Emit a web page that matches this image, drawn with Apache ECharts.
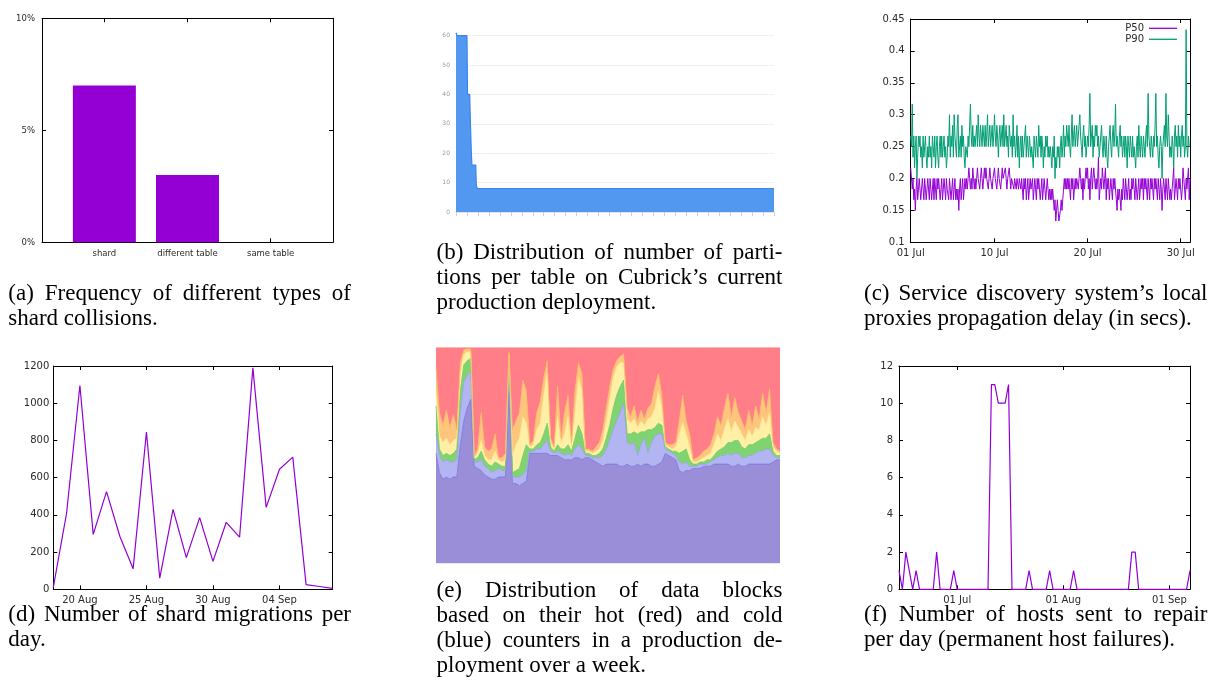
<!DOCTYPE html>
<html lang="en">
<head>
<meta charset="UTF-8">
<title>Cubrick figures</title>
<script src="https://cdn.jsdelivr.net/npm/echarts@6.0.0/dist/echarts.min.js"></script>
<style>
  body { margin: 0; background: #fff; }
  #main { width: 1208px; height: 681px; }
</style>
</head>
<body>
<div id="main"></div>
<script>
// (a) frequency of shard collision types, in percent
const collisionTypes = ['shard', 'different table', 'same table'];
const collisionPct = [7, 3, 0];

// (b) partitions per table, tables sorted by partition count
const partRank  = [0, 1, 10, 10.5, 12.5, 13, 14, 14.5, 18, 18.5, 19.5, 290];
const partCount = [61, 60, 60, 40, 40, 32, 20, 16, 16, 9, 8, 8];

// (c) propagation delay, sampled every 2h from 01 Jul, in 1/60 s
const p50Ticks = [
  13,12,11,12,10,11,9,11,12,10,11,12, 12,10,11,12,11,10,12,11,10,11,12,11,
  10,12,11,10,11,12,10,12,11,10,12,11, 12,11,10,11,12,10,11,12,11,10,12,11,
  11,10,12,11,10,11,12,10,11,12,10,11, 10,11,9,11,12,10,11,12,10,11,12,11,
  12,11,12,13,12,11,12,11,13,12,11,12, 11,12,13,12,12,11,12,13,12,11,12,13,
  12,13,12,12,11,12,13,12,12,11,12,12, 13,12,12,11,12,13,12,12,11,12,13,12,
  12,12,13,12,11,12,12,13,12,11,12,12, 12,11,12,12,11,12,12,11,12,12,11,12,
  11,10,12,11,12,10,11,12,10,11,12,11, 11,12,10,11,12,11,10,12,11,12,11,10,
  11,12,10,11,12,11,10,11,12,11,10,11, 10,11,10,11,10,9,10,8,9,10,9,8,
  8,9,10,9,10,11,12,11,12,11,12,11, 12,11,10,12,11,12,10,11,12,11,12,12,
  11,12,13,12,11,12,10,12,11,12,13,12, 13,11,12,10,12,13,11,12,13,12,11,12,
  11,12,14,10,11,12,11,13,12,11,12,13, 10,12,11,12,10,11,12,11,10,12,11,12,
  12,10,9,11,10,11,10,9,11,10,12,11, 10,12,11,10,11,12,10,11,10,12,11,12,
  11,10,12,11,10,11,12,10,11,12,11,12, 10,12,11,12,11,10,12,11,10,12,11,12,
  11,10,12,11,12,11,10,12,11,10,12,11, 9,11,12,11,10,12,11,10,12,11,10,11,
  10,11,12,13,10,11,12,11,10,12,11,12, 12,10,11,13,12,11,10,12,11,12,13,10,
  12
];
const p90Ticks = [
  16,15,19,14,16,13,15,16,12,14,16,15, 16,14,15,13,16,14,15,16,14,13,15,14,
  16,14,15,13,16,15,14,16,13,15,16,14, 13,15,16,14,16,14,15,16,14,15,13,14,
  16,15,18,14,16,15,17,14,18,16,15,14, 17,18,14,15,16,14,17,15,16,14,13,15,
  15,14,16,15,17,19,16,15,17,15,16,15, 16,17,15,18,16,15,17,16,15,17,16,15,
  17,15,16,18,15,16,17,15,16,17,15,16, 18,16,15,17,16,14,16,17,15,16,17,15,
  18,15,16,17,15,16,14,17,16,15,16,14, 18,15,16,14,15,17,14,16,13,15,16,14,
  16,14,15,16,17,14,16,15,14,16,15,14, 15,14,13,16,15,14,16,15,14,17,15,16,
  14,16,15,13,15,14,16,15,16,14,15,14, 15,14,13,15,14,16,12,14,13,15,14,15,
  13,15,16,14,15,17,14,16,15,17,16,15, 17,15,14,16,18,15,16,17,15,16,17,15,
  15,17,18,16,15,14,16,17,15,16,14,15, 16,15,17,20,15,16,17,14,16,15,17,16,
  17,15,16,14,15,16,17,15,14,16,15,14, 16,14,13,15,16,17,15,14,16,17,15,16,
  19,15,16,15,14,16,17,15,16,14,15,16, 14,16,15,13,16,15,14,16,15,14,16,14,
  15,14,13,15,16,14,17,15,14,16,15,14, 16,15,14,16,17,15,20,16,15,14,16,15,
  14,16,15,17,20,15,16,14,13,15,16,15, 12,15,16,17,15,20,16,15,18,16,14,15,
  14,16,15,13,16,17,15,16,14,17,15,16, 14,16,17,15,16,14,15,26,15,14,16,15,
  15
];
const julyTicks = [0, 9, 19, 29];
const julyLabels = ['01 Jul', '10 Jul', '20 Jul', '30 Jul'];

// (d) shard migrations per day, 18 Aug .. 08 Sep
const migrations = [10, 410, 1095, 295, 525, 285, 110, 845, 60, 430, 170, 385, 150, 360, 280, 1190, 440, 645, 710, 25, 15, 5];
const augTicks = [2, 7, 12, 17];
const augLabels = ['20 Aug', '25 Aug', '30 Aug', '04 Sep'];

// (e) hot/cold counters, upper edge of each band in % of blocks
const edgeBase = [51,42,39,40,39,40,40,55,66,72, 76,45,44,43,41,40,39,39,40,40, 40,85,37,37,36,37,38,51,51,51,
  51,51,51,50,50,50,49,48,48,48, 49,49,48,49,49,48,47,46,45,46, 46,46,46,45,45,46,45,45,46,45,
  46,46,45,45,46,47,51,50,49,48, 43,42,43,43,44,44,44,45,45,45, 46,46,46,46,46,45,45,46,45,45,
  46,46,46,46,46,46,46,47,48,48];
const edgeBlue = [60,50,47,48,47,47,48,70,84,87, 89,47,47,48,45,44,42,43,44,43, 43,92,40,40,40,41,43,52,52,53,
  53,55,57,52,51,52,51,50,51,50, 53,55,53,50,50,49,49,49,50,53, 57,62,66,70,74,56,55,56,50,55,
  58,51,56,59,60,60,53,52,51,50, 47,46,47,45,45,45,46,46,46,47, 48,49,50,50,51,50,51,51,49,49,
  50,50,51,52,52,53,53,50,49,49];
const edgeGreen = [73,53,50,51,50,51,53,80,92,94, 95,48,49,52,48,46,45,47,46,45, 45,95,42,43,44,50,55,53,53,55,
  56,60,65,54,52,55,53,53,55,52, 58,64,60,51,51,50,50,51,53,58, 64,72,78,82,85,60,60,61,60,61,
  61,62,62,63,65,64,54,53,52,52, 51,52,53,48,46,46,47,47,48,48, 50,52,53,54,56,56,57,57,54,53,
  55,55,56,57,58,58,60,52,50,50];
const edgeYellow = [80,59,56,58,55,57,58,88,97,98, 98,49,51,57,50,48,48,52,48,47, 48,97,50,55,58,68,65,54,55,62,
  65,78,88,56,53,68,56,60,68,54, 70,86,80,52,52,51,52,53,57,66, 76,86,91,93,93,67,65,67,63,66,
  64,67,68,72,80,72,55,54,53,54, 60,65,60,54,47,47,48,49,50,51, 55,60,57,62,67,61,66,63,60,57,
  62,59,63,62,68,64,70,54,52,51];
const edgeOrange = [91,70,64,71,63,69,62,93,99,99.5, 99.5,50,53,70,54,52,53,60,49,49, 51,98,62,66,70,85,80,55,57,70,
  75,86,94,58,54,82,58,70,78,56, 80,93,88,53,53,52,54,56,62,72, 82,90,94,96,97,72,68,73,66,71,
  67,72,74,82,88,78,56,55,55,56, 66,78,66,60,48,49,50,52,53,55, 60,68,64,72,79,68,77,70,66,62,
  71,64,73,67,79,70,81,56,53,52];

// (f) hosts sent to repair per day, from 14 Jun
const repairs = [1,0,2,1,0,1,0,0,0,0, 0,2,0,0,0,0,1,0,0,0, 0,0,0,0,0,0,0,11,11,10,
  10,10,11,0,0,0,0,0,1,0, 0,0,0,0,1,0,0,0,0,0, 0,1,0,0,0,0,0,0,0,0,
  0,0,0,0,0,0,0,0,2,2, 0,0,0,0,0,0,0,0,0,0, 0,0,0,0,0,1];
const monthTicks = [17, 48, 79];
const monthLabels = ['01 Jul', '01 Aug', '01 Sep'];

const captions = {
  a: ['(a) Frequency of different types of', 'shard collisions.'],
  b: ['(b) Distribution of number of parti-', 'tions per table on Cubrick\u2019s current', 'production deployment.'],
  c: ['(c) Service discovery system\u2019s local', 'proxies propagation delay (in secs).'],
  d: ['(d) Number of shard migrations per', 'day.'],
  e: ['(e) Distribution of data blocks', 'based on their hot (red) and cold', '(blue) counters in a production de-', 'ployment over a week.'],
  f: ['(f) Number of hosts sent to repair', 'per day (permanent host failures).']
};

const VIOLET = '#9400d3', GREEN = '#009e73';
const grids = [], xAxes = [], yAxes = [], series = [], graphic = [];

// gnuplot style box: black frame, ticks pointing inwards on all four sides
function box(rect, xa, ya) {
  const gi = grids.length;
  grids.push(Object.assign({outerBoundsMode: 'none'}, rect));
  const line = {show: true, onZero: false, lineStyle: {color: '#000', width: 1}};
  function ax(a, pos, withLabel, margin) {
    const o = {gridIndex: gi, type: 'value', position: pos, min: a.min, max: a.max,
      axisLine: line, splitLine: {show: false},
      axisTick: {show: true, inside: true, length: 4, lineStyle: {color: '#000'}},
      axisLabel: {show: withLabel, margin: margin, formatter: a.fmt || (v => String(v)),
        color: '#2a2a2a', fontFamily: 'DejaVu Sans', fontSize: a.fontSize || 10}};
    if (a.interval) o.interval = a.interval;
    if (a.ticks) { o.axisTick.customValues = a.ticks; o.axisLabel.customValues = a.ticks; }
    return o;
  }
  const xi = xAxes.length, yi = yAxes.length;
  xAxes.push(ax(xa, 'bottom', true, xa.margin || 6), ax(xa, 'top', false, 6));
  yAxes.push(ax(ya, 'left', true, ya.margin || 6), ax(ya, 'right', false, 6));
  return {xAxisIndex: xi, yAxisIndex: yi};
}

// (a)
const ia = box({left: 42, top: 18.3, width: 291, height: 224},
  {min: -0.75, max: 2.75, ticks: [0, 1, 2], fmt: v => collisionTypes[v], fontSize: 8.5, margin: 7},
  {min: 0, max: 10, interval: 5, fmt: v => v + '%', fontSize: 8.5, margin: 7});
series.push(Object.assign({type: 'bar', barWidth: 63, itemStyle: {color: VIOLET},
  data: collisionPct.map((v, i) => [i, v])}, ia));

// (b) dashboard style chart
grids.push({left: 456, top: 35.7, width: 318, height: 176.3, outerBoundsMode: 'none'});
const gb = grids.length - 1;
xAxes.push({gridIndex: gb, type: 'value', min: 0, max: 290, interval: 10,
  axisLine: {show: true, lineStyle: {color: '#e4e4e4'}},
  axisTick: {show: true, length: 4, lineStyle: {color: '#d0d0d0'}},
  axisLabel: {show: false}, splitLine: {show: false}});
yAxes.push({gridIndex: gb, type: 'value', min: 0, max: 60, interval: 10,
  axisLine: {show: false}, axisTick: {show: false},
  axisLabel: {color: '#9a9a9a', fontSize: 6, margin: 6, fontFamily: 'DejaVu Sans'},
  splitLine: {lineStyle: {color: '#f1f1f1'}}});
series.push({type: 'line', xAxisIndex: xAxes.length - 1, yAxisIndex: yAxes.length - 1,
  symbol: 'none', clip: false, lineStyle: {color: '#3a84ee', width: 1.2},
  areaStyle: {color: '#5298f1', opacity: 1},
  data: partRank.map((x, i) => [x, partCount[i]])});

// (c)
const ic = box({left: 910.7, top: 19, width: 279.3, height: 223.3},
  {min: 0, max: 30, ticks: julyTicks, fmt: v => julyLabels[julyTicks.indexOf(v)]},
  {min: 0.1, max: 0.45, interval: 0.05, fmt: v => String(+v.toFixed(2))});
series.push(Object.assign({type: 'line', name: 'P90', symbol: 'none', z: 2,
  lineStyle: {color: GREEN, width: 1}, itemStyle: {color: GREEN},
  data: p90Ticks.map((v, i) => [i / 12, v / 60])}, ic));
series.push(Object.assign({type: 'line', name: 'P50', symbol: 'none', z: 3,
  lineStyle: {color: VIOLET, width: 1}, itemStyle: {color: VIOLET},
  data: p50Ticks.map((v, i) => [i / 12, v / 60])}, ic));

// (d)
const id = box({left: 53.3, top: 366, width: 279.4, height: 223.3},
  {min: 0, max: 21, ticks: augTicks, fmt: v => augLabels[augTicks.indexOf(v)]},
  {min: 0, max: 1200, interval: 200, margin: 4});
series.push(Object.assign({type: 'line', symbol: 'none', lineStyle: {color: VIOLET, width: 1.2},
  data: migrations.map((v, i) => [i, v])}, id));

// (e) stacked bands, no axes
grids.push({left: 436, top: 347.7, width: 344, height: 215.6, outerBoundsMode: 'none'});
const ge = grids.length - 1;
xAxes.push({gridIndex: ge, type: 'category', boundaryGap: false, show: false,
  data: edgeBase.map((_, i) => i)});
yAxes.push({gridIndex: ge, type: 'value', min: 0, max: 100, show: false});
const bands = [
  {lo: null, hi: edgeBase, color: '#9a8ed9', line: '#7670dc'},
  {lo: edgeBase, hi: edgeBlue, color: '#b3b5f2', line: '#9a9cf0'},
  {lo: edgeBlue, hi: edgeGreen, color: '#80d371', line: '#6cc95e'},
  {lo: edgeGreen, hi: edgeYellow, color: '#fff0a6', line: '#fbe68c'},
  {lo: edgeYellow, hi: edgeOrange, color: '#fdc67c', line: '#f8b766'},
  {lo: edgeOrange, hi: null, color: '#ff7e87', line: '#ff7e87'}
];
bands.forEach(b => {
  series.push({type: 'line', xAxisIndex: xAxes.length - 1, yAxisIndex: yAxes.length - 1,
    stack: 'blocks', symbol: 'none',
    lineStyle: {color: b.line, width: 0.8}, areaStyle: {color: b.color, opacity: 1},
    data: edgeBase.map((_, i) => {
      const lo = b.lo ? b.lo[i] : 0, hi = b.hi ? b.hi[i] : 100;
      return Math.max(0, hi - lo);
    })});
});

// (f)
const iff = box({left: 899, top: 366, width: 291, height: 223.3},
  {min: 0, max: 85, ticks: monthTicks, fmt: v => monthLabels[monthTicks.indexOf(v)]},
  {min: 0, max: 12, interval: 2});
series.push(Object.assign({type: 'line', symbol: 'none', lineStyle: {color: VIOLET, width: 1.2},
  data: repairs.map((v, i) => [i, v])}, iff));

// captions, justified like the paper's columns
const CAP = 23, PITCH = 25;
const capFont = CAP + 'px "Liberation Serif"';
const meas = document.createElement('canvas').getContext('2d');
meas.font = capFont;
function word(t, x, base) {
  graphic.push({type: 'text', x: x, y: base - 4, silent: true,
    style: {text: t, font: capFont, fill: '#000', align: 'left', verticalAlign: 'middle'}});
}
function caption(lines, left, right, base) {
  lines.forEach((ln, k) => {
    const y = base + k * PITCH;
    const words = ln.split(' ');
    if (k === lines.length - 1 || words.length < 2) { word(ln, left, y); return; }
    const w = words.map(s => meas.measureText(s).width);
    const gap = (right - left - w.reduce((a, b) => a + b, 0)) / (words.length - 1);
    let x = left;
    words.forEach((s, j) => { word(s, x, y); x += w[j] + gap; });
  });
}
caption(captions.a, 8.3, 351, 297.7);
caption(captions.b, 436.5, 782.5, 257.3);
caption(captions.c, 864, 1207.5, 297.7);
caption(captions.d, 8.3, 351, 619);
caption(captions.e, 436.5, 782.5, 594.5);
caption(captions.f, 864, 1207.5, 619);

const chart = echarts.init(document.getElementById('main'), null, {renderer: 'canvas'});
chart.setOption({
  animation: false,
  backgroundColor: '#fff',
  grid: grids,
  xAxis: xAxes,
  yAxis: yAxes,
  legend: {data: ['P50', 'P90'], orient: 'vertical', right: 31, top: 22.8, align: 'right',
    icon: 'rect', itemWidth: 28, itemHeight: 1.3, itemGap: 0,
    textStyle: {fontFamily: 'DejaVu Sans', fontSize: 10, color: '#2a2a2a', lineHeight: 11},
    padding: 0, selectedMode: false},
  series: series,
  graphic: graphic
});
</script>
</body>
</html>
